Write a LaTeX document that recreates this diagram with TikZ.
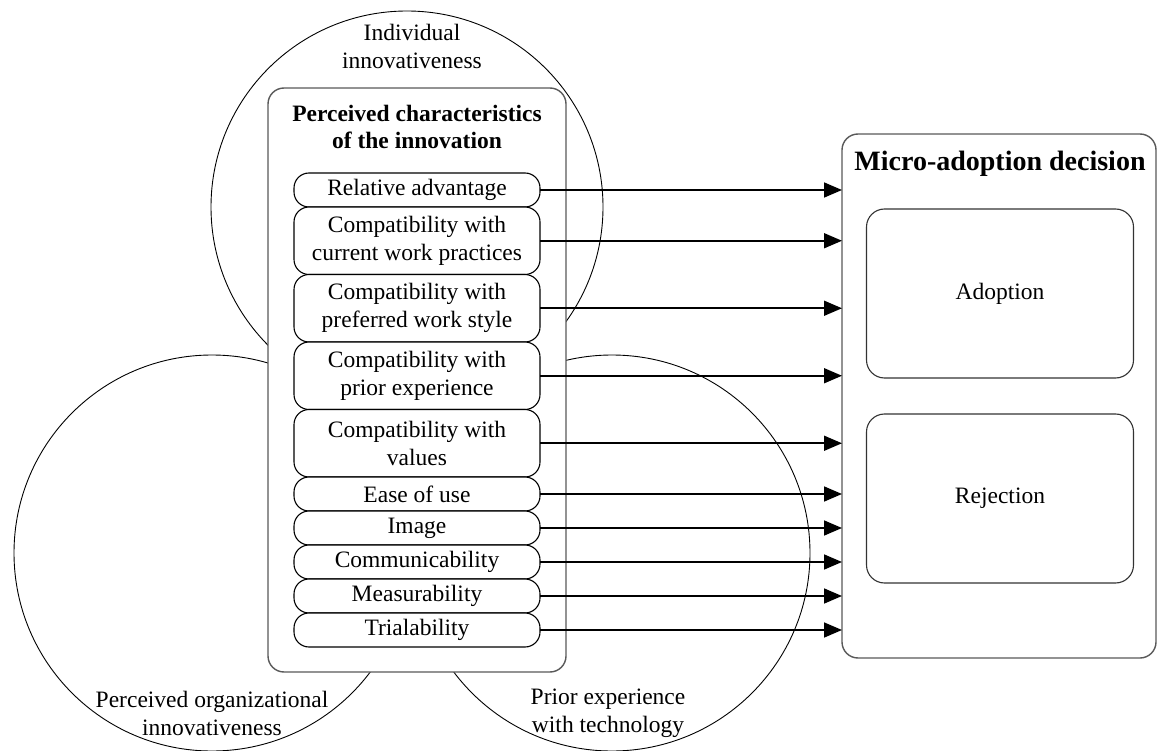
\documentclass[tikz,border=0pt]{standalone}
\usepackage{fontspec}
\setmainfont{Liberation Serif}
\usetikzlibrary{positioning,arrows.meta}

\tikzset{
  factor/.style={draw, line width=0.9pt},
  itembox/.style={draw, line width=1.1pt, rounded corners=15pt, fill=white,
    minimum width=246pt, minimum height=34pt, inner sep=0pt, outer sep=0pt, align=center},
  itemtall/.style={itembox, minimum height=67.5pt},
  panel/.style={draw=black!65, line width=1.4pt, rounded corners=16pt, fill=white,
    inner sep=0pt, outer sep=0pt},
  choice/.style={draw=black!80, line width=1.1pt, rounded corners=18pt,
    minimum width=267pt, minimum height=169pt},
  link/.style={line width=1.6pt, -{Triangle[length=18pt,width=15pt]}}
}

\begin{document}
\begin{tikzpicture}[x=1pt, y=-1pt, font=\fontsize{23.5}{28}\selectfont]
\useasboundingbox (0,0) rectangle (1157,751);

% the three circles of influence
\draw[factor] (407,207) circle[radius=196pt];
\draw[factor] (212,553) circle[radius=198pt];
\draw[factor] (612,553) circle[radius=198pt];
\node[align=center] (indiv) at (412,46) {Individual\\innovativeness};
\node[align=center] (orgl) at (212,713) {Perceived organizational\\innovativeness};
\node[align=center] (prior) at (608,713) {Prior experience\\with technology};

% perceived characteristics
\node[panel, minimum width=298pt, minimum height=584pt] (chars) at (417,380) {};
\node[font=\fontsize{23.5}{27}\selectfont\bfseries, align=center] (charstitle) at (417,127)
  {Perceived characteristics\\of the innovation};
\node[itembox] (reladv) at (417,190) {Relative advantage};
\node[itemtall, below=0pt of reladv] (cwp) {Compatibility with\\current work practices};
\node[itemtall, below=0pt of cwp] (pws) {Compatibility with\\preferred work style};
\node[itemtall, below=0pt of pws] (pexp) {Compatibility with\\prior experience};
\node[itemtall, below=0pt of pexp] (vals) {Compatibility with\\values};
\node[itembox, below=0pt of vals] (ease) {Ease of use};
\node[itembox, below=0pt of ease] (image) {Image};
\node[itembox, below=0pt of image] (comm) {Communicability};
\node[itembox, below=0pt of comm] (meas) {Measurability};
\node[itembox, below=0pt of meas] (trial) {Trialability};

% decision
\node[panel, minimum width=314pt, minimum height=524pt] (micro) at (999,396) {};
\node[font=\fontsize{28}{32}\selectfont\bfseries] (microtitle) at (1000,164) {Micro-adoption decision};
\node[choice] (adopt) at (1000,293.5) {Adoption};
\node[choice] (reject) at (1000,498.5) {Rejection};

\foreach \n in {reladv,cwp,pws,pexp,vals,ease,image,comm,meas,trial}
  \draw[link] (\n.east) -- (\n.east -| micro.west);
\end{tikzpicture}
\end{document}
